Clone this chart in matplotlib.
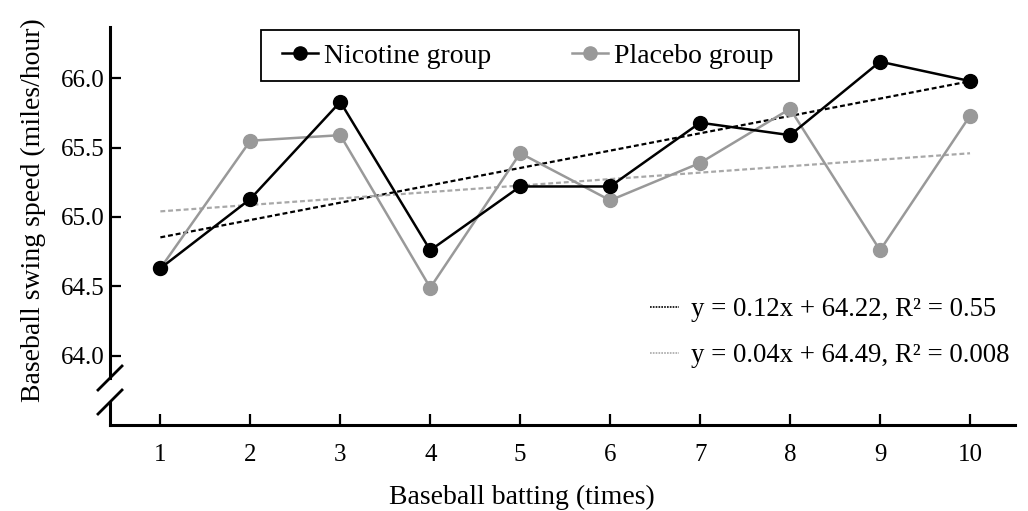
import numpy as np
import matplotlib
matplotlib.use("Agg")
import matplotlib.pyplot as plt
from matplotlib.lines import Line2D
from matplotlib.patches import Rectangle

plt.rcParams['font.family'] = ['Liberation Serif', 'DejaVu Serif']

trials = [1, 2, 3, 4, 5, 6, 7, 8, 9, 10]
nicotine = [64.63, 65.13, 65.83, 64.76, 65.22, 65.22, 65.68, 65.59, 66.12, 65.98]
placebo = [64.63, 65.55, 65.59, 64.49, 65.46, 65.12, 65.39, 65.78, 64.76, 65.73]
yticks = [64.0, 64.5, 65.0, 65.5, 66.0]
eq_nic = "y = 0.12x + 64.22, R\u00b2 = 0.55"
eq_pla = "y = 0.04x + 64.49, R\u00b2 = 0.008"

BLACK = "#000000"
GRAY = "#999999"
LGRAY = "#a8a8a8"

fig = plt.figure(figsize=(10.28, 5.11), dpi=100)
AX_L, AX_R, AX_T, AX_B = 110, 1015, 27, 425
AW, AH = AX_R - AX_L, AX_B - AX_T
ax = fig.add_axes([AX_L/1028, 1 - AX_B/511, AW/1028, AH/511])


def fx(px):
    return (px - AX_L) / AW


def fy(py):
    return (AX_B - py) / AH


x = np.array(trials, dtype=float)
# trend lines (least squares fit)
for ys, col in [(nicotine, BLACK), (placebo, LGRAY)]:
    k, b = np.polyfit(x, ys, 1)
    ax.plot([x[0], x[-1]], [k*x[0]+b, k*x[-1]+b], color=col, lw=1.6,
            linestyle=(0, (2.2, 1.3)), zorder=2)

ax.plot(x, placebo, color=GRAY, lw=1.8, marker='o', ms=10, zorder=3)
ax.plot(x, nicotine, color=BLACK, lw=1.8, marker='o', ms=10, zorder=4)

ax.set_xlim(0.44, 10.5)
ax.set_ylim(63.5, 66.37)
ax.set_xticks(trials)
ax.set_yticks(yticks)
ax.set_yticklabels([f"{v:.1f}" for v in yticks])
ax.tick_params(direction='in', length=8, width=1.6, labelsize=18)
ax.tick_params(axis='x', pad=14)
ax.tick_params(axis='y', pad=4)
ax.get_yticklines()[0].set_color(LGRAY)
ax.get_xticklines()[0].set_color(LGRAY)

for s in ['top', 'right', 'left']:
    ax.spines[s].set_visible(False)
ax.spines['bottom'].set_linewidth(2.2)

# broken left spine
trans = ax.transAxes
y_gap_lo = fy(402)
y_gap_hi = fy(378)
ax.add_line(Line2D([0, 0], [y_gap_hi, 1], transform=trans, color='k', lw=2.2, clip_on=False))
ax.add_line(Line2D([0, 0], [0, y_gap_lo], transform=trans, color='k', lw=2.2, clip_on=False))
dx = 12 / AW
dy = 12 / AH
for yc in [y_gap_hi, y_gap_lo]:
    ax.add_line(Line2D([-dx, dx], [yc-dy, yc+dy], transform=trans, color='k', lw=2.0, clip_on=False))

ax.set_xlabel("Baseball batting (times)", fontsize=20)
ax.xaxis.set_label_coords(fx(522), fy(485))
ax.set_ylabel("Baseball swing speed (miles/hour)", fontsize=20)
ax.yaxis.set_label_coords(fx(46), fy(210))

# legend frame + entries
ax.add_patch(Rectangle((fx(261), fy(81)), fx(799) - fx(261), fy(30) - fy(81),
                       transform=trans, fill=True, facecolor='white',
                       edgecolor='k', lw=1.3, clip_on=False, zorder=5))
h1 = Line2D([], [], color=BLACK, lw=1.8, marker='o', ms=9.5)
h2 = Line2D([], [], color=GRAY, lw=1.8, marker='o', ms=9.5)
leg1 = ax.legend([h1, h2], ["Nicotine group", "Placebo group"], ncol=2,
                 loc='center left', bbox_to_anchor=(fx(282), fy(56)),
                 fontsize=20, frameon=False,
                 handlelength=1.3, columnspacing=2.9, borderpad=0,
                 handletextpad=0.22, borderaxespad=0)
leg1.set_zorder(6)
ax.add_artist(leg1)

t1 = Line2D([], [], color=BLACK, lw=1.2, linestyle=(0, (1.0, 0.7)))
t2 = Line2D([], [], color=LGRAY, lw=1.2, linestyle=(0, (1.0, 0.7)))
ax.legend([t1, t2], [eq_nic, eq_pla], loc='upper right',
          bbox_to_anchor=(fx(1010), fy(297)), fontsize=19.3,
          frameon=False, handlelength=1.1, handletextpad=0.45, labelspacing=0.8,
          borderaxespad=0, borderpad=0)

fig.savefig("out.png", dpi=100)
